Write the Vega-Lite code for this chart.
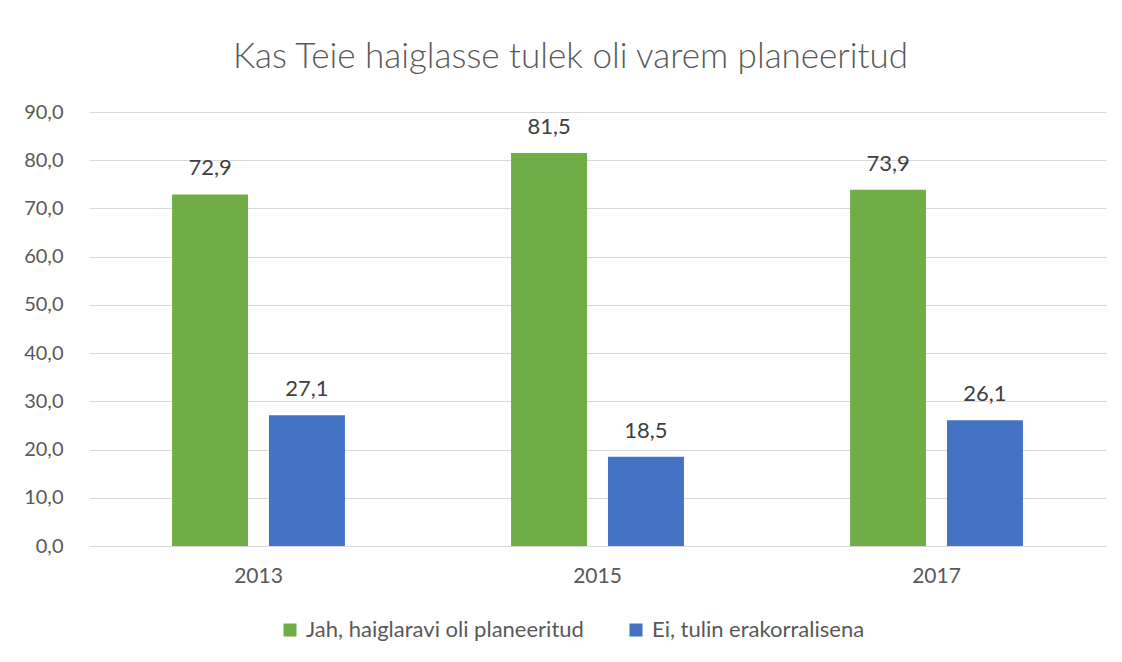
{
  "$schema": "https://vega.github.io/schema/vega-lite/v6.json",
  "width": 1017,
  "height": 434,
  "autosize": {"type": "none"},
  "padding": {"left": 89, "top": 112, "right": 16, "bottom": 116},
  "background": "white",
  "config": {
    "locale": {"number": {"decimal": ",", "thousands": " ", "grouping": [3], "currency": ["", " €"]}},
    "view": {"stroke": null},
    "font": "Lato"
  },
  "title": {
    "text": "Kas Teie haiglasse tulek oli varem planeeritud",
    "fontSize": 35,
    "fontWeight": 300,
    "font": "Lato",
    "color": "#595959",
    "anchor": "middle",
    "dx": -27,
    "offset": 27
  },
  "data": {
    "values": [
      {"aasta": "2013", "vastus": "Jah, haiglaravi oli planeeritud", "protsent": 72.9},
      {"aasta": "2013", "vastus": "Ei, tulin erakorralisena", "protsent": 27.1},
      {"aasta": "2015", "vastus": "Jah, haiglaravi oli planeeritud", "protsent": 81.5},
      {"aasta": "2015", "vastus": "Ei, tulin erakorralisena", "protsent": 18.5},
      {"aasta": "2017", "vastus": "Jah, haiglaravi oli planeeritud", "protsent": 73.9},
      {"aasta": "2017", "vastus": "Ei, tulin erakorralisena", "protsent": 26.1}
    ]
  },
  "encoding": {
    "x": {
      "field": "aasta", "type": "nominal",
      "scale": {"paddingInner": 0.49, "paddingOuter": 0.245},
      "axis": {"title": null, "labelAngle": 0, "ticks": false, "domainColor": "#D9D9D9", "labelFontSize": 21, "labelColor": "#595959", "labelPadding": 19}
    },
    "xOffset": {
      "field": "vastus", "type": "nominal",
      "sort": ["Jah, haiglaravi oli planeeritud", "Ei, tulin erakorralisena"],
      "scale": {"paddingInner": 0.216, "paddingOuter": 0}
    },
    "y": {
      "field": "protsent", "type": "quantitative",
      "scale": {"domain": [0, 90]},
      "axis": {"title": null, "values": [0,10,20,30,40,50,60,70,80,90], "labelOverlap": false, "format": ".1f", "ticks": false, "domain": false, "gridColor": "#D9D9D9", "labelFontSize": 20, "labelColor": "#595959", "labelPadding": 26}
    }
  },
  "layer": [
    {
      "mark": {"type": "bar"},
      "encoding": {
        "color": {
          "field": "vastus", "type": "nominal",
          "sort": ["Jah, haiglaravi oli planeeritud", "Ei, tulin erakorralisena"],
          "scale": {"domain": ["Jah, haiglaravi oli planeeritud", "Ei, tulin erakorralisena"], "range": ["#70AD47", "#4472C4"]},
          "legend": {"title": null, "orient": "none", "direction": "horizontal", "legendX": 190, "legendY": 507, "symbolType": "square", "symbolSize": 169, "symbolStrokeWidth": 0, "labelFontSize": 22, "labelColor": "#595959", "columnPadding": 41, "labelOffset": 5, "labelLimit": 400}
        }
      }
    },
    {
      "mark": {"type": "text", "baseline": "alphabetic", "dy": -19, "fontSize": 22, "color": "#404040"},
      "encoding": {
        "text": {"field": "protsent", "type": "quantitative", "format": ".1f"}
      }
    }
  ]
}
